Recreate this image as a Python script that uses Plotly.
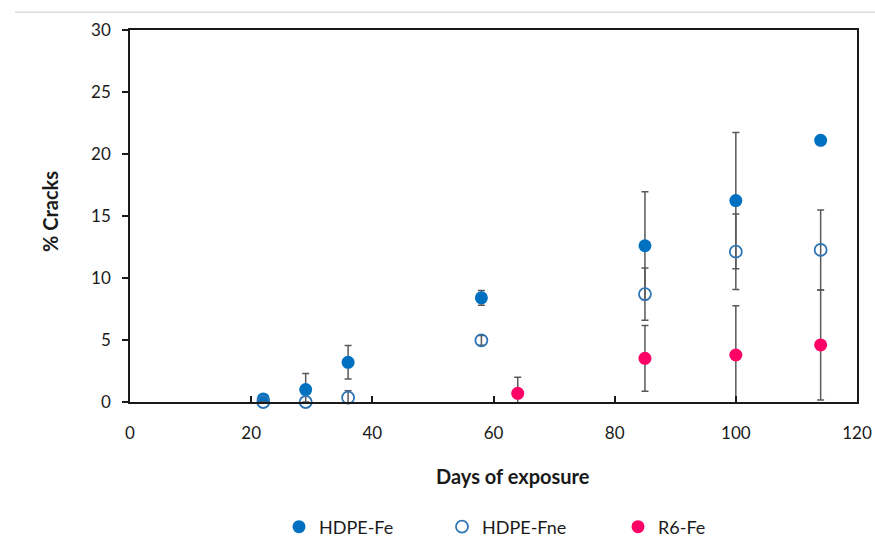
import plotly.graph_objects as go

# Data
fe_x = [22, 29, 36, 58, 85, 100, 114]
fe_y = [0.25, 1.0, 3.2, 8.4, 12.6, 16.24, 21.1]
fe_err = [0.0, 1.3, 1.35, 0.6, 4.36, 5.5, 0.0]

fne_x = [22, 29, 36, 58, 85, 100, 114]
fne_y = [0.0, 0.0, 0.35, 4.97, 8.7, 12.12, 12.26]
fne_err = [0.0, 0.0, 0.55, 0.4, 2.1, 3.04, 3.22]

r6_x = [64, 85, 100, 114]
r6_y = [0.7, 3.52, 3.79, 4.6]
r6_err = [1.3, 2.65, 3.98, 4.44]

x_ticks = [0, 20, 40, 60, 80, 100, 120]
y_ticks = [0, 5, 10, 15, 20, 25, 30]
x_title = "Days of exposure"
y_title = "% Cracks"

FONT = "Lato, 'Open Sans', sans-serif"
TXT = "#1a1a1a"
ERR = dict(type="data", visible=True, color="#595959", thickness=1.5, width=3.5)

fig = go.Figure()
fig.add_trace(go.Scatter(
    x=fe_x, y=fe_y, mode="markers", name="HDPE-Fe", legend="legend",
    marker=dict(symbol="circle", size=13, color="#0070C0"),
    error_y=dict(array=fe_err, **ERR)))
fig.add_trace(go.Scatter(
    x=fne_x, y=fne_y, mode="markers", name="HDPE-Fne", legend="legend2",
    marker=dict(symbol="circle-open", size=12, color="#2E75B6", line=dict(width=1.8)),
    error_y=dict(array=fne_err, **ERR), cliponaxis=False))
fig.add_trace(go.Scatter(
    x=r6_x, y=r6_y, mode="markers", name="R6-Fe", legend="legend3",
    marker=dict(symbol="circle", size=13, color="#FF0066"),
    error_y=dict(array=r6_err, **ERR)))

def leg(xpx):
    return dict(orientation="h", xref="container", yref="container",
                x=(xpx - 20) / 875, xanchor="left", y=1 - 527 / 539, yanchor="middle",
                font=dict(size=18, color=TXT), bgcolor="rgba(0,0,0,0)")

fig.update_layout(
    width=875, height=539,
    margin=dict(l=130, r=18, t=30, b=137, autoexpand=False),
    paper_bgcolor="white", plot_bgcolor="white",
    font=dict(family=FONT, size=17, color=TXT),
    showlegend=True,
    legend=leg(299), legend2=leg(462), legend3=leg(638),
    xaxis=dict(range=[0, 120], tickvals=x_ticks, ticks="inside", ticklen=6, tickwidth=1.5,
               tickcolor=TXT, showgrid=False, zeroline=False, automargin=False,
               showline=True, linecolor=TXT, linewidth=1.5, mirror=True,
               ticklabelstandoff=15),
    yaxis=dict(range=[0, 30], tickvals=y_ticks, ticks="outside", ticklen=6, tickwidth=1.5,
               tickcolor=TXT, showgrid=False, zeroline=False, automargin=False,
               showline=True, linecolor=TXT, linewidth=1.5, mirror=True,
               ticklabelstandoff=8),
    annotations=[
        dict(text="<b>" + x_title + "</b>", xref="paper", yref="paper",
             x=(513 - 130) / 727, y=(402 - 476) / 372, xanchor="center", yanchor="middle",
             showarrow=False, font=dict(size=20, color=TXT)),
        dict(text="<b>" + y_title + "</b>", xref="paper", yref="paper",
             x=(50 - 130) / 727, y=(402 - 212) / 372, xanchor="center", yanchor="middle",
             textangle=-90, showarrow=False, font=dict(size=20, color=TXT)),
    ],
    shapes=[dict(type="line", xref="paper", yref="paper", x0=-0.158, x1=1.03,
                 y0=1.048, y1=1.048, line=dict(color="#D9D9D9", width=1.5))],
)

fig.write_html("out.html")
